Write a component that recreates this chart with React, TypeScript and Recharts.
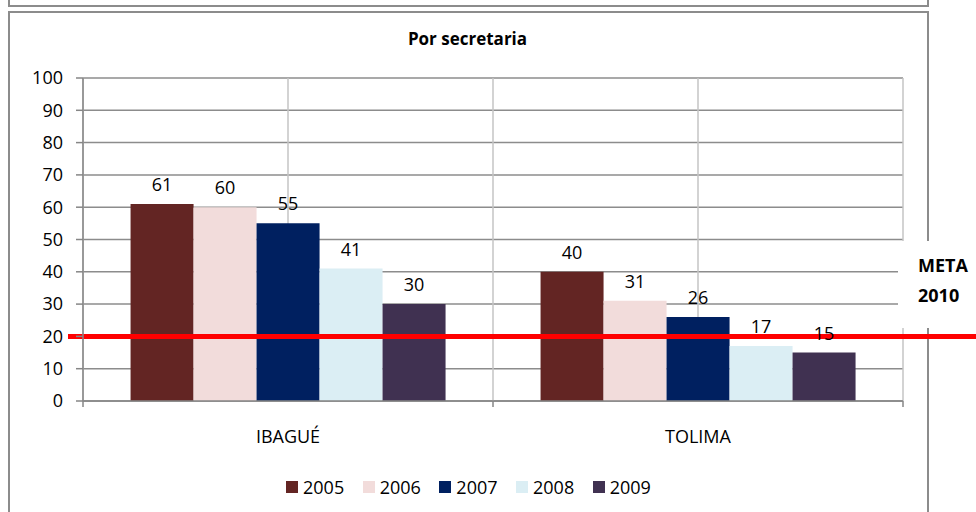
import React from 'react';
import {
  BarChart,
  Bar,
  XAxis,
  YAxis,
  CartesianGrid,
  Legend,
  LabelList,
  ReferenceLine,
} from 'recharts';

const categories = ['IBAGUÉ', 'TOLIMA'];
const years = ['2005', '2006', '2007', '2008', '2009'];
const values2005 = [61, 40];
const values2006 = [60, 31];
const values2007 = [55, 26];
const values2008 = [41, 17];
const values2009 = [30, 15];
const seriesValues = [values2005, values2006, values2007, values2008, values2009];
const seriesColors = ['#632523', '#F2DCDB', '#002060', '#DBEEF4', '#403151'];
const yTicks = [0, 10, 20, 30, 40, 50, 60, 70, 80, 90, 100];
const title = 'Por secretaria';
const metaValue = 20;
const metaLines = ['META', '2010'];

const data = categories.map((name, i) => {
  const row: Record<string, string | number> = { name };
  years.forEach((y, s) => {
    row['y' + y] = seriesValues[s][i];
  });
  return row;
});

const FONT = '"Open Sans", "Liberation Sans", sans-serif';
const X_TICK_SIZE = 6;
const X_TICK_MARGIN = 23;
const AXIS_COLOR = '#868686';

const XTick = (props: any) => {
  const { x, y, payload, index, visibleTicksCount } = props;
  const half = payload.offset || 0;
  const axisY = y - X_TICK_SIZE - X_TICK_MARGIN;
  return (
    <g>
      <line x1={x - half} x2={x - half} y1={axisY} y2={axisY + X_TICK_SIZE} stroke={AXIS_COLOR} strokeWidth={1.5} />
      {index === visibleTicksCount - 1 && (
        <line x1={x + half} x2={x + half} y1={axisY} y2={axisY + X_TICK_SIZE} stroke={AXIS_COLOR} strokeWidth={1.5} />
      )}
      <text x={x} y={y} dy="0.71em" textAnchor="middle" fontSize={18} fontFamily={FONT} fill="#000">
        {payload.value}
      </text>
    </g>
  );
};

const renderLegend = (props: any) => {
  const { payload } = props;
  return (
    <div style={{ display: 'flex', alignItems: 'center', height: 22, fontFamily: FONT, fontSize: 18, color: '#000' }}>
      {(payload || []).map((entry: any, i: number) => (
        <div key={i} style={{ display: 'flex', alignItems: 'center', marginRight: 18.5 }}>
          <span style={{ display: 'inline-block', width: 12, height: 12, background: entry.color, marginRight: 5 }} />
          <span style={{ lineHeight: '22px' }}>{entry.value}</span>
        </div>
      ))}
    </div>
  );
};

const RedLine = (props: any) => {
  const { x1, y1, y2 } = props;
  return <line x1={x1 - 15} x2={976} y1={y1} y2={y2} stroke="#FF0000" strokeWidth={5} />;
};

export default function App() {
  return (
    <div style={{ position: 'absolute', left: 0, top: 0, width: 976, height: 512, overflow: 'hidden', background: '#fff' }}>
      <div
        style={{
          position: 'absolute',
          left: 8,
          top: -10,
          width: 917,
          height: 13,
          border: '2px solid #8c8c8c',
        }}
      />
      <div
        style={{
          position: 'absolute',
          left: 8,
          top: 11,
          width: 917,
          height: 520,
          border: '2px solid #8c8c8c',
        }}
      />
      <div
        style={{
          position: 'absolute',
          left: 0,
          top: 27,
          width: 935,
          textAlign: 'center',
          fontFamily: FONT,
          fontWeight: 700,
          fontSize: 17,
          lineHeight: '23px',
          color: '#000',
        }}
      >
        {title}
      </div>
      <div style={{ position: 'absolute', left: 0, top: 0 }}>
        <BarChart
          width={976}
          height={512}
          data={data}
          margin={{ top: 78, right: 73, left: 23, bottom: 14 }}
          barCategoryGap="11.6%"
          barGap={0}
        >
          <CartesianGrid horizontal={true} vertical={false} stroke="#8c8c8c" strokeWidth={1.5} />
          <CartesianGrid
            horizontal={false}
            vertical={true}
            stroke="#c4c4c4"
            strokeWidth={1.5}
            verticalCoordinatesGenerator={({ offset }: any) =>
              [0, 1, 2, 3, 4].map((k) => offset.left + (offset.width * k) / 4)
            }
          />
          <XAxis
            dataKey="name"
            height={75}
            tickLine={false}
            tickSize={X_TICK_SIZE}
            tickMargin={X_TICK_MARGIN}
            axisLine={{ stroke: AXIS_COLOR, strokeWidth: 1.5 }}
            tick={<XTick />}
            interval={0}
          />
          <YAxis
            width={60}
            domain={[0, 100]}
            ticks={yTicks}
            interval={0}
            tickSize={7}
            tickMargin={13}
            axisLine={{ stroke: AXIS_COLOR, strokeWidth: 1.5 }}
            tickLine={{ stroke: AXIS_COLOR, strokeWidth: 1.5 }}
            tick={{ fill: '#000', fontSize: 18, fontFamily: FONT }}
          />
          <Legend verticalAlign="bottom" height={22} content={renderLegend} wrapperStyle={{ left: 286, width: 420 }} />
          {years.map((y, s) => (
            <Bar key={y} dataKey={'y' + y} name={y} fill={seriesColors[s]} isAnimationActive={false}>
              <LabelList dataKey={'y' + y} position="top" offset={13} fill="#000" fontSize={18} fontFamily={FONT} />
            </Bar>
          ))}
          <ReferenceLine y={metaValue} ifOverflow="visible" shape={<RedLine />} />
        </BarChart>
      </div>
      <div
        style={{
          position: 'absolute',
          left: 898,
          top: 241,
          width: 78,
          height: 87,
          background: '#fff',
          fontFamily: FONT,
          fontWeight: 700,
          fontSize: 18,
          color: '#000',
        }}
      >
        {metaLines.map((t, i) => (
          <div key={i} style={{ position: 'absolute', left: 20, top: 12 + i * 30, lineHeight: '24px' }}>
            {t}
          </div>
        ))}
      </div>
    </div>
  );
}
